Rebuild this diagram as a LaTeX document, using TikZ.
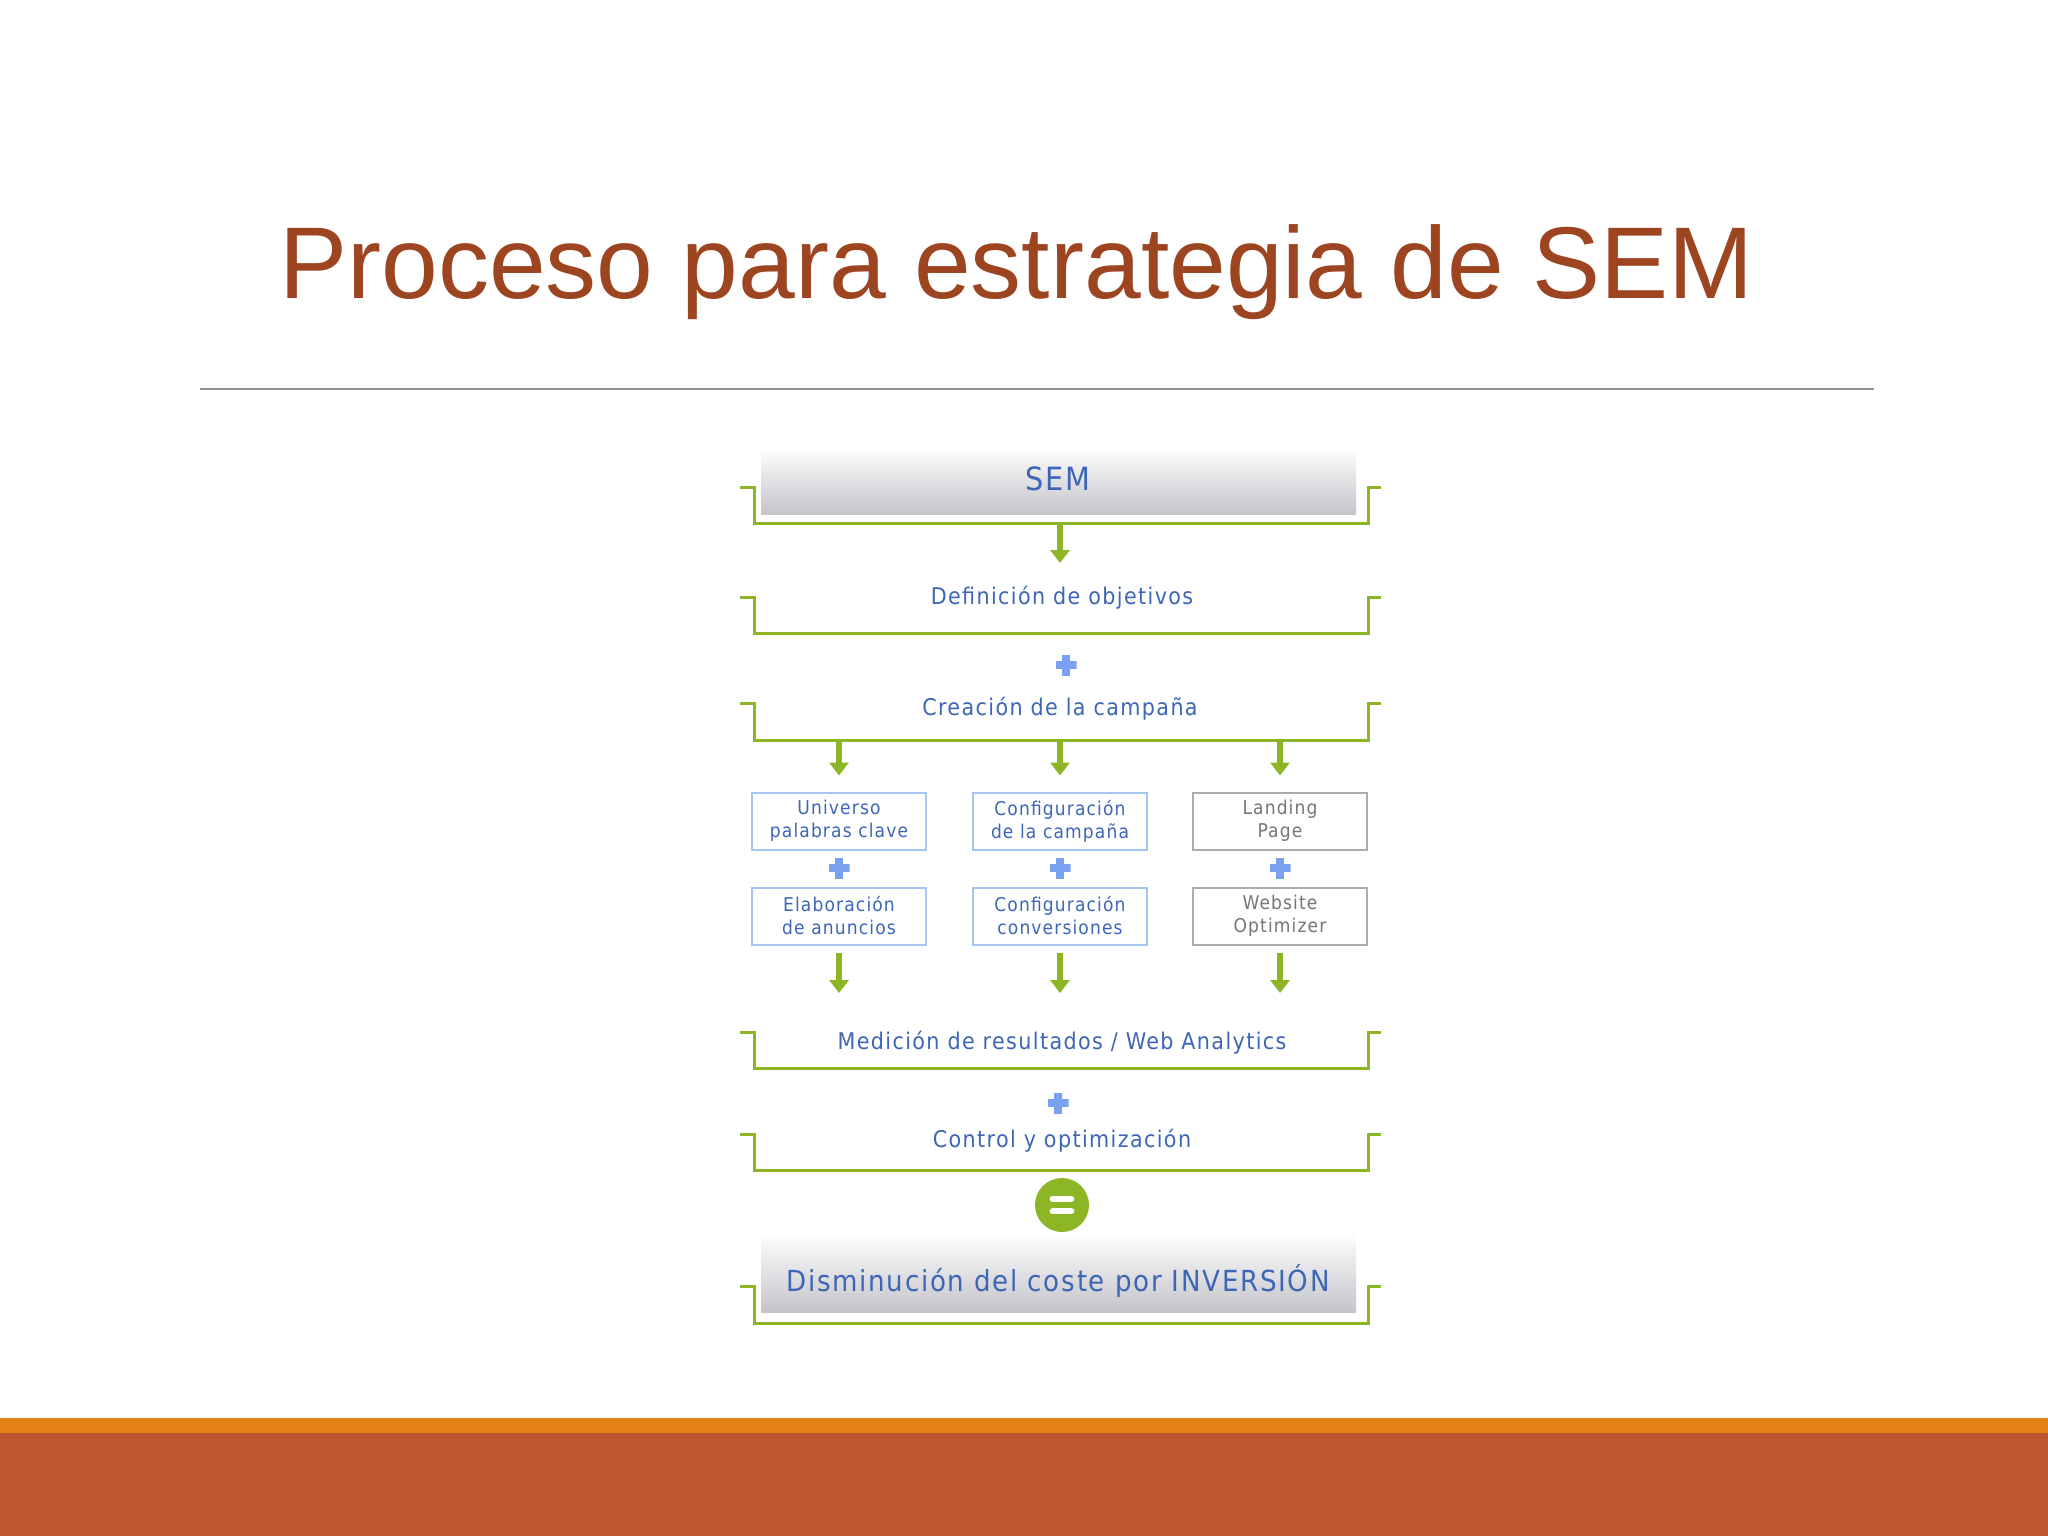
\documentclass[tikz,border=0pt]{standalone}
\usepackage{fontspec}
\usetikzlibrary{arrows.meta}

\newfontfamily\titlefont{Liberation Sans}
\newfontfamily\diagfont[LetterSpace=6]{DejaVu Sans Condensed}

\definecolor{titlered}{RGB}{157,68,32}
\definecolor{rulegray}{RGB}{145,145,145}
\definecolor{textblue}{RGB}{62,102,182}
\definecolor{boxblue}{RGB}{165,198,240}
\definecolor{boxgray}{RGB}{172,172,172}
\definecolor{textgray}{RGB}{118,118,118}
\definecolor{semgreen}{RGB}{141,182,38}
\definecolor{plusblue}{RGB}{122,162,240}
\definecolor{shadegray}{RGB}{196,196,202}
\definecolor{bandorange}{RGB}{226,130,22}
\definecolor{bandrust}{RGB}{190,87,48}

% green bracket under each stage: tick height, bottom line
\newcommand{\stagebracket}[2]{%
    \draw[bracket] (740,#1) -- (754,#1) -- (754,#2) -- (1368,#2) -- (1368,#1) -- (1381,#1);}

\begin{document}
\begin{tikzpicture}[x=0.5pt, y=-0.5pt,
    stage/.style={inner sep=0pt, text=textblue, font=\diagfont\fontsize{11.5}{14}\selectfont},
    bigstage/.style={inner sep=0pt, text=textblue, font=\diagfont\fontsize{#1}{18}\selectfont},
    cajaazul/.style={draw=boxblue, line width=1pt, fill=white, minimum width=87pt, minimum height=28.5pt,
        inner sep=0pt, align=center, text=textblue, font=\diagfont\fontsize{9.5}{11.5}\selectfont},
    cajagris/.style={cajaazul, draw=boxgray, text=textgray},
    bracket/.style={draw=semgreen, line width=1.5pt},
    flecha/.style={draw=semgreen, line width=3pt, -{Triangle[width=9.5pt,length=6.5pt]}},
    mas/.style={minimum size=10.5pt, inner sep=0pt, path picture={
        \fill[plusblue] ([xshift=-1.8pt]path picture bounding box.north) rectangle ([xshift=1.8pt]path picture bounding box.south);
        \fill[plusblue] ([yshift=1.8pt]path picture bounding box.west) rectangle ([yshift=-1.8pt]path picture bounding box.east);}},
    igual/.style={circle, fill=semgreen, minimum size=27pt, inner sep=0pt, path picture={
        \draw[white, line width=3pt, line cap=round] ([xshift=-4.7pt,yshift=3.2pt]path picture bounding box.center) -- ++(9.4pt,0pt);
        \draw[white, line width=3pt, line cap=round] ([xshift=-4.7pt,yshift=-3.2pt]path picture bounding box.center) -- ++(9.4pt,0pt);}}
    ]

    % Slide background + title
    \fill[white] (0,0) rectangle (2048,1536);
    \useasboundingbox (0,0) rectangle (2048,1536);
    \node[anchor=base west, inner sep=0pt, text=titlered, font=\titlefont\fontsize{51}{60}\selectfont]
        (titulo) at (279,298) {Proceso para estrategia de SEM};
    \draw[rulegray, line width=1pt] (200,389) -- (1874,389);

    % Footer bands
    \fill[bandorange] (0,1418) rectangle (2048,1433);
    \fill[bandrust] (0,1433) rectangle (2048,1536);

    % SEM
    \shade[top color=white, bottom color=shadegray] (761,447) rectangle (1356,514);
    \node[bigstage=16] (sem) at (1058,479) {SEM};
    \stagebracket{487}{523}
    \coordinate (sembase) at (1060,523);
    \coordinate (objetivostop) at (1060,563);
    \draw[flecha] (sembase) -- (objetivostop);

    % Objetivos + campaña
    \node[stage] (objetivos) at (1062,598) {Definición de objetivos};
    \stagebracket{597}{633}
    \node[mas] (mas1) at (1066,665) {};
    \node[stage] (campana) at (1060,709) {Creación de la campaña};
    \stagebracket{703}{740}
    \coordinate (campanabase) at (1060,740);

    % Three columns
    \node[cajaazul] (universo) at (839,821) {Universo\\palabras clave};
    \node[cajaazul] (confcampana) at (1060,821) {Configuración\\de la campaña};
    \node[cajagris] (landing) at (1280,821) {Landing\\Page};
    \node[mas] (mas2) at (839,868) {};
    \node[mas] (mas3) at (1060,868) {};
    \node[mas] (mas4) at (1280,868) {};
    \node[cajaazul] (anuncios) at (839,916) {Elaboración\\de anuncios};
    \node[cajaazul] (confconv) at (1060,916) {Configuración\\conversiones};
    \node[cajagris] (optimizer) at (1280,916) {Website\\Optimizer};

    \draw[flecha, shorten >=8pt] (universo.north |- campanabase) -- (universo.north);
    \draw[flecha, shorten >=8pt] (confcampana.north |- campanabase) -- (confcampana.north);
    \draw[flecha, shorten >=8pt] (landing.north |- campanabase) -- (landing.north);

    \coordinate (medicionin) at (1060,993);
    \draw[flecha, shorten <=3.5pt] (anuncios.south) -- (anuncios.south |- medicionin);
    \draw[flecha, shorten <=3.5pt] (confconv.south) -- (confconv.south |- medicionin);
    \draw[flecha, shorten <=3.5pt] (optimizer.south) -- (optimizer.south |- medicionin);

    % Medicion + control
    \node[stage] (medicion) at (1062,1043) {Medición de resultados / Web Analytics};
    \stagebracket{1032}{1068}
    \node[mas] (mas5) at (1058,1103) {};
    \node[stage] (control) at (1062,1141) {Control y optimización};
    \stagebracket{1134}{1170}

    % Result
    \node[igual] (igual) at (1062,1205) {};
    \shade[top color=white, bottom color=shadegray] (761,1232) rectangle (1356,1312);
    \node[bigstage=14.5] (inversion) at (1058,1281) {Disminución del coste por INVERSIÓN};
    \stagebracket{1286}{1323}

\end{tikzpicture}
\end{document}
